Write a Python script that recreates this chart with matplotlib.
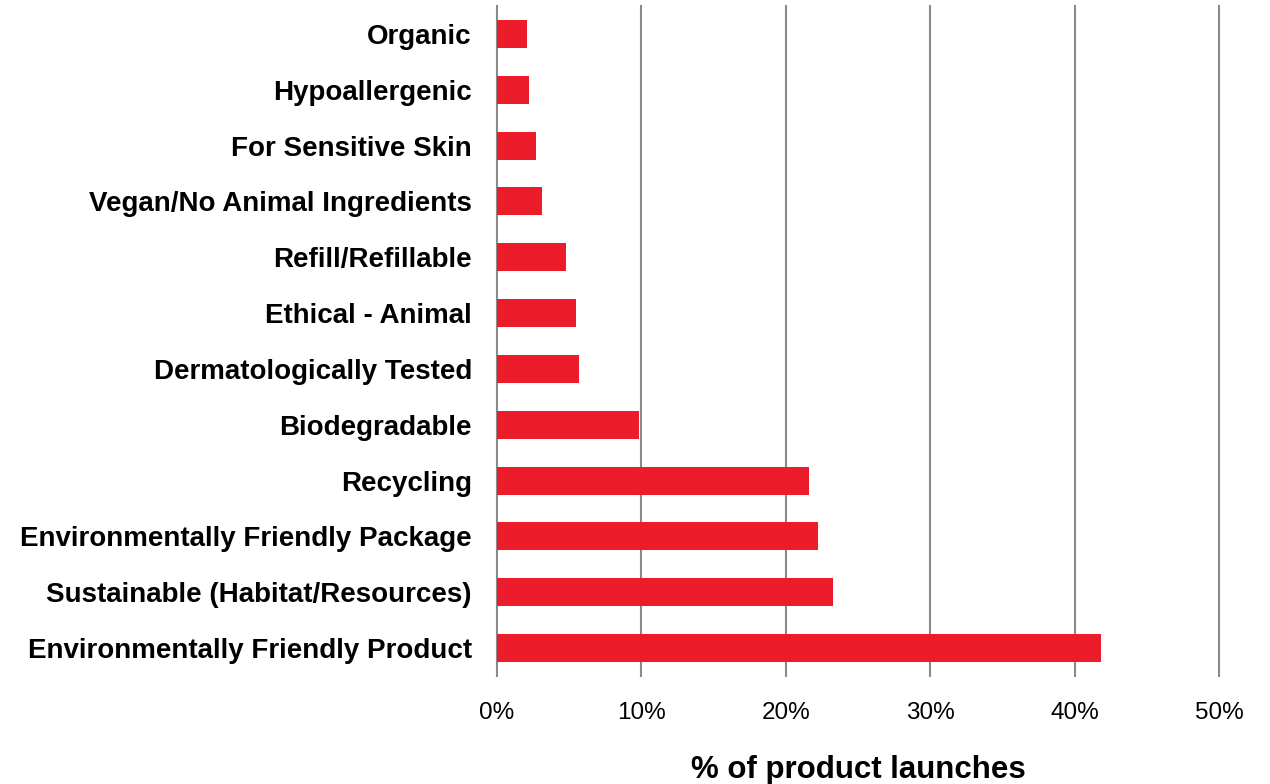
import numpy as np
import matplotlib.pyplot as plt

plt.rcParams['font.family'] = ['Liberation Sans', 'DejaVu Sans']

# 数据：从下到上
categories = [
    "Environmentally Friendly Product",
    "Sustainable (Habitat/Resources)",
    "Environmentally Friendly Package",
    "Recycling",
    "Biodegradable",
    "Dermatologically Tested",
    "Ethical - Animal",
    "Refill/Refillable",
    "Vegan/No Animal Ingredients",
    "For Sensitive Skin",
    "Hypoallergenic",
    "Organic",
]
shares = [41.8, 23.3, 22.2, 21.6, 9.84, 5.70, 5.45, 4.80, 3.14, 2.72, 2.24, 2.06]
x_ticks = [0, 10, 20, 30, 40, 50]

fig = plt.figure(figsize=(12.7, 7.84), dpi=100)
ax = fig.add_axes([0.3913, 0.1378, 0.5685, 0.8545])

y = np.arange(len(categories))
ax.barh(y, shares, height=0.5, color='#ED1C2A', zorder=3)

ax.set_xlim(0, 50)
ax.set_ylim(-0.5, len(categories) - 0.5)
ax.set_xticks(x_ticks)
ax.set_xticklabels([f"{t}%" for t in x_ticks], fontsize=17.5)
ax.set_yticks(y)
ax.set_yticklabels(categories, fontsize=20, fontweight='bold')
ax.tick_params(axis='x', length=0, pad=18.5)
ax.tick_params(axis='y', length=0, pad=18)

# 竖向网格线，边上的不裁切
ax.grid(axis='x', color='#8A8A8A', linewidth=1.5, zorder=0)
for line in ax.get_xgridlines():
    line.set_clip_on(False)
for s in ax.spines.values():
    s.set_visible(False)

fig.text(0.6756, 1 - 770 / 784, "% of product launches", fontsize=22.5,
         fontweight='bold', ha='center', va='center')

fig.savefig("out.png", dpi=100)
